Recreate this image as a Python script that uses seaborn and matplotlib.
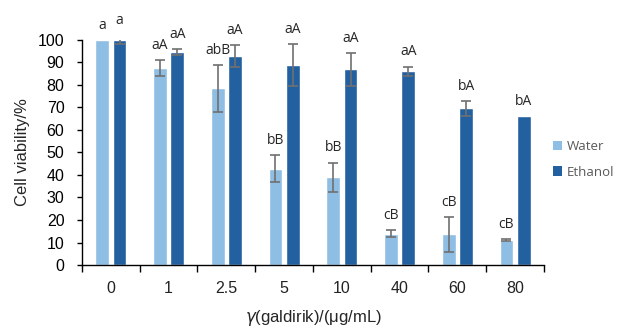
import matplotlib
matplotlib.use("Agg")
import matplotlib.pyplot as plt
import seaborn as sns
import pandas as pd
from matplotlib.patches import Patch

concentrations = ["0", "1", "2.5", "5", "10", "40", "60", "80"]
water = [100.0, 87.6, 78.5, 42.8, 39.0, 13.9, 13.6, 11.1]
water_err = [0.0, 3.4, 10.3, 6.0, 6.5, 1.5, 7.7, 0.3]
ethanol = [100.0, 94.5, 92.9, 88.9, 87.0, 86.2, 69.6, 66.2]
ethanol_err = [2.0, 1.3, 5.0, 9.4, 7.3, 2.0, 3.3, 0.0]
water_labels = ["a", "aA", "abB", "bB", "bB", "cB", "cB", "cB"]
ethanol_labels = ["a", "aA", "aA", "aA", "aA", "aA", "bA", "bA"]
series = ["Water", "Ethanol"]
colors = ["#8fbee5", "#2360a0"]

df = pd.DataFrame({
    "conc": concentrations * 2,
    "solvent": ["Water"] * len(concentrations) + ["Ethanol"] * len(concentrations),
    "viability": water + ethanol,
})

sns.set_style("white")
plt.rcParams["font.family"] = ["Liberation Sans", "DejaVu Sans"]

fig = plt.figure(figsize=(6.23, 3.29), dpi=100)
ax = fig.add_axes([0.1316, 0.1945, 0.7416, 0.684])

sns.barplot(data=df, x="conc", y="viability", hue="solvent", order=concentrations,
            hue_order=series, palette=colors, errorbar=None, width=0.6, gap=0.2,
            saturation=1, legend=False, ax=ax)

errs = [water_err, ethanol_err]
vals = [water, ethanol]
labs = [water_labels, ethanol_labels]
bar_conts = list(ax.containers)
for k, cont in enumerate(bar_conts):
    for i, bar in enumerate(cont.patches):
        xc = bar.get_x() + bar.get_width() / 2
        v = vals[k][i]
        e = errs[k][i]
        if e > 0:
            ax.errorbar(xc, v, yerr=e, fmt="none", ecolor="#707070", elinewidth=1.2,
                        capsize=3.5, capthick=1.2, zorder=3)
        top = v + e
        ax.text(xc, top + 6.5, labs[k][i], ha="center", va="center", fontsize=10,
                color="#262626", family=["Open Sans", "DejaVu Sans"], clip_on=False)

ax.set_ylim(0, 100)
ax.set_xlim(-0.5, len(concentrations) - 0.5)
ax.set_yticks(range(0, 101, 10))
ax.tick_params(axis="y", labelsize=11.5, length=3.6, width=1, direction="out", left=True,
               colors="black", pad=9)
ax.set_xticks(range(len(concentrations)))
ax.set_xticklabels(concentrations)
ax.tick_params(axis="x", which="major", length=0, labelsize=11.5, pad=11.5)
ax.set_xticks([i - 0.5 for i in range(len(concentrations) + 1)], minor=True)
ax.tick_params(axis="x", which="minor", length=5, width=1, direction="out", bottom=True,
               color="black")
for lab in ax.get_xticklabels():
    lab.set_color("#222222")
for s in ["top", "right"]:
    ax.spines[s].set_visible(False)
for s in ["left", "bottom"]:
    ax.spines[s].set_color("black")
    ax.spines[s].set_linewidth(1)

ax.set_ylabel("Cell viability/%", fontsize=12, labelpad=6)
ax.set_xlabel(r"$\it{\gamma}$(galdirik)/(μg/mL)", fontsize=12, labelpad=9)

handles = [Patch(facecolor=c, edgecolor="none", label=s) for c, s in zip(colors, series)]
fig.legend(handles=handles, loc="upper left", bbox_to_anchor=(0.868, 0.61), frameon=False,
           handlelength=0.7, handleheight=0.7, handletextpad=0.4, labelspacing=0.95,
           prop={"family": ["Open Sans", "DejaVu Sans"], "size": 9.5}, labelcolor="#595959")

fig.savefig("out.png", dpi=100)
